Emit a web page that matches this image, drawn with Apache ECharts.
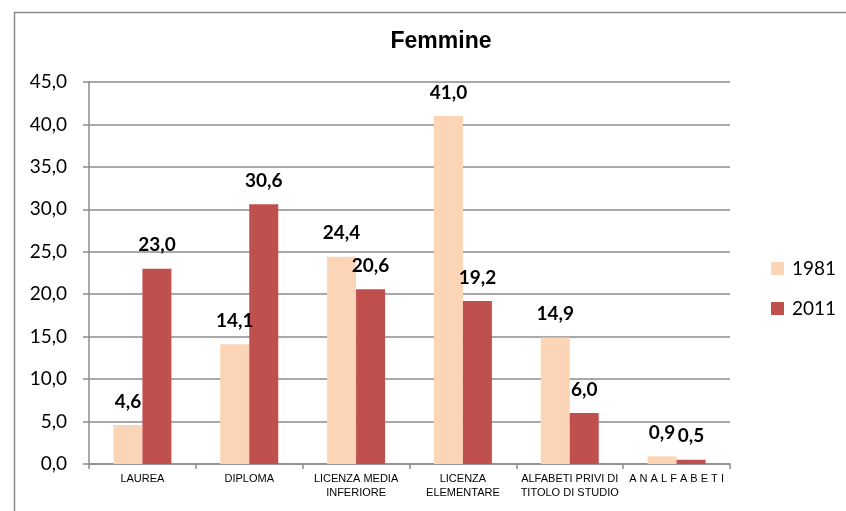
<!DOCTYPE html>
<html>
<head>
<meta charset="utf-8">
<script src="https://cdn.jsdelivr.net/npm/echarts@6/dist/echarts.min.js"></script>
<style>html,body{margin:0;padding:0;background:#fff}#c{width:846px;height:511px}</style>
</head>
<body>
<div id="c"></div>
<script>
const categories = ['LAUREA', 'DIPLOMA', 'LICENZA MEDIA\nINFERIORE', 'LICENZA\nELEMENTARE', 'ALFABETI PRIVI DI\nTITOLO DI STUDIO', 'A N A L F A B E T I'];
const seriesNames = ['1981', '2011'];
const values1981 = [4.6, 14.1, 24.4, 41.0, 14.9, 0.9];
const values2011 = [23.0, 30.6, 20.6, 19.2, 6.0, 0.5];
const yTicks = { min: 0, max: 45, interval: 5 };

const fmt = v => Number(v).toFixed(1).replace('.', ',');
const chart = echarts.init(document.getElementById('c'), null, { renderer: 'canvas' });
const labelStyle = {
  show: true, position: 'top', distance: 14,
  fontFamily: 'Lato, "Open Sans", sans-serif', fontWeight: 'bold', fontSize: 19, color: '#000',
  formatter: p => fmt(p.value)
};
chart.setOption({
  animation: false,
  backgroundColor: '#fff',
  graphic: [{
    type: 'rect', left: 12, top: 10, shape: { width: 900, height: 600 },
    style: { fill: 'none', stroke: '#8c8c8c', lineWidth: 1.5 }, silent: true
  }],
  title: {
    text: 'Femmine', left: 436, top: 25, textAlign: 'center',
    textStyle: { fontFamily: '"Liberation Sans", Arial, sans-serif', fontWeight: 'bold', fontSize: 23, color: '#000' }
  },
  legend: {
    orient: 'vertical', left: 766, top: 254, itemWidth: 13, itemHeight: 13, itemGap: 21,
    icon: 'rect',
    textStyle: { fontFamily: 'Lato, "Open Sans", sans-serif', fontSize: 19, color: '#000', padding: [0, 0, 0, 3] },
    data: seriesNames
  },
  grid: { left: 89, right: 116, top: 82, bottom: 47, containLabel: false },
  xAxis: {
    type: 'category', data: categories,
    axisLine: { lineStyle: { color: '#8c8c8c', width: 1.5 } },
    axisTick: { show: true, alignWithLabel: false, length: 5, lineStyle: { color: '#8c8c8c', width: 1.5 } },
    axisLabel: {
      interval: 0, margin: 8, lineHeight: 14,
      fontFamily: '"Liberation Sans Narrow", "Liberation Sans", Arial, sans-serif', fontSize: 11, color: '#000'
    }
  },
  yAxis: {
    type: 'value', min: yTicks.min, max: yTicks.max, interval: yTicks.interval,
    axisLine: { show: true, lineStyle: { color: '#8c8c8c', width: 1.5 } },
    axisTick: { show: true, length: 6, lineStyle: { color: '#8c8c8c', width: 1.5 } },
    splitLine: { show: true, lineStyle: { color: '#8c8c8c', width: 1.5 } },
    axisLabel: {
      margin: 22, formatter: v => fmt(v),
      fontFamily: 'Lato, "Open Sans", sans-serif', fontSize: 19, color: '#000'
    }
  },
  series: [
    { name: seriesNames[0], type: 'bar', data: values1981, barWidth: 29, barGap: '0%',
      itemStyle: { color: '#FBD5B5' }, label: labelStyle },
    { name: seriesNames[1], type: 'bar', data: values2011, barWidth: 29, barGap: '0%',
      itemStyle: { color: '#C0504D' }, label: labelStyle }
  ]
});
</script>
</body>
</html>
